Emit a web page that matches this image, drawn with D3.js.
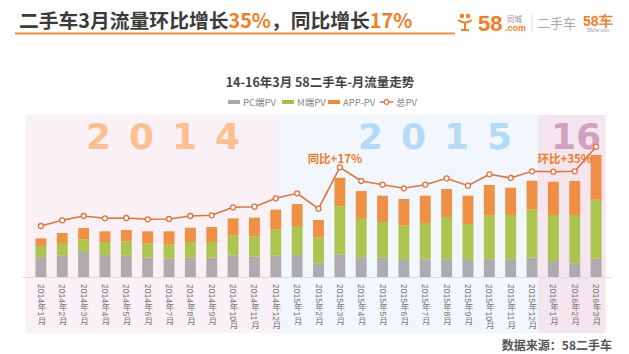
<!DOCTYPE html>
<html>
<head>
<meta charset="utf-8">
<script src="https://cdn.jsdelivr.net/npm/d3@7"></script>
<style>
  body { margin: 0; background: #fff; }
  svg { display: block; font-family: "Noto Sans CJK SC", "Noto Sans", sans-serif; }
</style>
</head>
<body>
<div class="chart"></div>
<script>
// monthly data (relative units)
const months = [
  "2014年1月", "2014年2月", "2014年3月", "2014年4月", "2014年5月", "2014年6月",
  "2014年7月", "2014年8月", "2014年9月", "2014年10月", "2014年11月", "2014年12月",
  "2015年1月", "2015年2月", "2015年3月", "2015年4月", "2015年5月", "2015年6月",
  "2015年7月", "2015年8月", "2015年9月", "2015年10月", "2015年11月", "2015年12月",
  "2016年1月", "2016年2月", "2016年3月"
]
const pcPV = [197, 213, 250, 220, 213, 193, 183, 193, 193, 213, 203, 213, 220, 137, 227, 197, 193, 170, 177, 177, 170, 177, 177, 193, 160, 137, 183]
const mPV = [113, 127, 127, 130, 144, 140, 144, 157, 157, 200, 204, 260, 290, 260, 480, 383, 357, 343, 363, 423, 360, 436, 443, 480, 460, 483, 590]
const appPV = [77, 100, 113, 107, 113, 124, 130, 143, 150, 174, 186, 200, 220, 173, 286, 280, 263, 267, 273, 280, 283, 307, 273, 290, 333, 340, 447]
const totalPV = [510, 567, 610, 587, 590, 577, 580, 610, 617, 697, 703, 787, 837, 683, 1097, 960, 923, 887, 923, 987, 913, 1027, 990, 1057, 1053, 1057, 1303]
const keys = ["pc", "m", "app"]
const legendLabels = ["PC端PV", "M端PV", "APP-PV", "总PV"]
const years = [
  { label: "2014", first: "2014年1月", last: "2014年12月" },
  { label: "2015", first: "2015年1月", last: "2015年12月" },
  { label: "16", first: "2016年1月", last: "2016年3月" }
]

const width = 629
const height = 354
const baseY = 277

const colors = d3.scaleOrdinal()
  .domain(keys)
  .range(["#aaa6aa", "#a6c244", "#ef8a3a"])

const table = months.map((m, i) => ({ month: m, pc: pcPV[i], m: mPV[i], app: appPV[i], total: totalPV[i] }))
const stacked = d3.stack().keys(keys)(table)

const x = d3.scaleBand()
  .domain(months)
  .range([25, 612])
  .padding(0.49)

const y = d3.scaleLinear()
  .domain([0, 1303])
  .range([baseY, 146.7])

const svg = d3.select(".chart")
  .append("svg")
  .attr("width", width)
  .attr("height", height)

// ---- header ----
const title = svg.append("text")
  .attr("x", 19)
  .attr("y", 28)
  .attr("font-size", 19.8)
  .attr("font-weight", "bold")
  .attr("fill", "#3b3b3b")
title.append("tspan").text("二手车3月流量环比增长")
title.append("tspan").attr("fill", "#f47d1f").text("35%")
title.append("tspan").text("，同比增长")
title.append("tspan").attr("fill", "#f47d1f").text("17%")

svg.append("rect")
  .attr("x", 15).attr("y", 32.5)
  .attr("width", 440).attr("height", 2)
  .attr("fill", "#f58a3a")

// logo
const logo = svg.append("g").attr("transform", "translate(458, 0)")
logo.append("circle").attr("cx", 4).attr("cy", 16).attr("r", 2.2).attr("fill", "#f47d1f")
logo.append("circle").attr("cx", 10).attr("cy", 16).attr("r", 2.2).attr("fill", "#f47d1f")
logo.append("path")
  .attr("d", "M0,20 Q7,25 14,20 M7,22 L7,30 M3,30 L11,30")
  .attr("fill", "none").attr("stroke", "#f47d1f").attr("stroke-width", 2)
logo.append("text").attr("x", 20).attr("y", 31)
  .attr("font-family", "'Liberation Sans', Arial, sans-serif")
  .attr("font-size", 22).attr("font-weight", "bold").attr("fill", "#f47d1f").text("58")
logo.append("text").attr("x", 47).attr("y", 31)
  .attr("font-family", "'Liberation Sans', Arial, sans-serif")
  .attr("font-size", 9).attr("font-weight", "bold").attr("fill", "#f47d1f").text(".com")
logo.append("text").attr("x", 49).attr("y", 22)
  .attr("font-size", 7.5).attr("fill", "#999").text("同城")
logo.append("line").attr("x1", 74).attr("x2", 74).attr("y1", 14).attr("y2", 32)
  .attr("stroke", "#ddd")
logo.append("text").attr("x", 79).attr("y", 28)
  .attr("font-size", 13).attr("fill", "#aaa").text("二手车")
logo.append("text").attr("x", 125).attr("y", 26)
  .attr("font-family", "'Liberation Sans', Arial, sans-serif")
  .attr("font-size", 14).attr("font-weight", "bold").attr("fill", "#f47d1f").text("58车")
logo.append("text").attr("x", 129).attr("y", 32)
  .attr("font-family", "'Liberation Sans', Arial, sans-serif")
  .attr("font-size", 4.5).attr("fill", "#999").text("58che.com")

// chart title
svg.append("text")
  .attr("x", 320).attr("y", 87)
  .attr("text-anchor", "middle")
  .attr("font-size", 12.5).attr("font-weight", "bold").attr("fill", "#444")
  .text("14-16年3月  58二手车-月流量走势")

// legend
const legendX = [228, 282, 328, 380]
const legend = svg.append("g")
legendLabels.forEach((lbl, i) => {
  const g = legend.append("g").attr("transform", `translate(${legendX[i]}, 102)`)
  if (i < 3) {
    g.append("rect").attr("x", 0).attr("y", -2).attr("width", 12).attr("height", 4)
      .attr("fill", colors(keys[i]))
  } else {
    g.append("line").attr("x1", 0).attr("x2", 13).attr("y1", 0).attr("y2", 0)
      .attr("stroke", "#e2723f").attr("stroke-width", 1.5)
    g.append("circle").attr("cx", 6.5).attr("cy", 0).attr("r", 2.3)
      .attr("fill", "#fff").attr("stroke", "#e2723f").attr("stroke-width", 1.2)
  }
  g.append("text").attr("x", i < 3 ? 15 : 16).attr("y", 3.5)
    .attr("font-size", 9.5).attr("fill", "#888").text(lbl)
})

// ---- year backgrounds ----
const step = x.step()
const yearBg = ["#f9f1f5", "#f1f7fc", "#f5e5ee"]
const yearText = ["#fbbf90", "#b3daf6", "#cfa2bf"]
years.forEach((yr, i) => {
  const x0 = x(yr.first) + x.bandwidth() / 2 - step * 0.72
  const x1 = i < years.length - 1
    ? x(years[i + 1].first) + x.bandwidth() / 2 - step * 0.72
    : x(yr.last) + x.bandwidth() / 2 + step * 0.45
  svg.append("rect")
    .attr("x", x0).attr("y", 115)
    .attr("width", x1 - x0).attr("height", 218)
    .attr("fill", yearBg[i])
})

svg.append("line")
  .attr("x1", 22).attr("x2", 612)
  .attr("y1", baseY + 0.5).attr("y2", baseY + 0.5)
  .attr("stroke", "#dcdcdc")

// big year labels
const yearPos = [163, 435, 576]
years.forEach((yr, i) => {
  svg.append("text")
    .attr("x", yearPos[i]).attr("y", 149)
    .attr("text-anchor", "middle")
    .attr("font-family", "'DejaVu Sans', Verdana, sans-serif")
    .attr("font-size", 36).attr("font-weight", "bold")
    .attr("letter-spacing", i < 2 ? 18 : 0)
    .attr("dx", i < 2 ? 9 : 0)
    .attr("fill", yearText[i])
    .text(yr.label)
})

// ---- stacked bars ----
svg.append("g")
  .selectAll("g")
  .data(stacked)
  .join("g")
  .attr("fill", d => colors(d.key))
  .selectAll("rect")
  .data(d => d)
  .join("rect")
  .attr("x", d => x(d.data.month))
  .attr("y", d => y(d[1]))
  .attr("width", x.bandwidth())
  .attr("height", d => y(d[0]) - y(d[1]))
  .attr("opacity", 0.95)

// ---- total line ----
const line = d3.line()
  .x(d => x(d.month) + x.bandwidth() / 2)
  .y(d => y(d.total))

svg.append("path")
  .datum(table)
  .attr("d", line)
  .attr("fill", "none")
  .attr("stroke", "#e2723f")
  .attr("stroke-width", 1.6)

svg.append("g")
  .selectAll("circle")
  .data(table)
  .join("circle")
  .attr("cx", d => x(d.month) + x.bandwidth() / 2)
  .attr("cy", d => y(d.total))
  .attr("r", 2.5)
  .attr("fill", "#fff")
  .attr("stroke", "#e2723f")
  .attr("stroke-width", 1.3)

// annotations
const notes = [
  { month: "2015年3月", text: "同比+17%", dx: -5 },
  { month: "2016年2月", text: "环比+35%", dx: -10 }
]
svg.append("g")
  .selectAll("text")
  .data(notes)
  .join("text")
  .attr("x", d => x(d.month) + x.bandwidth() / 2 + d.dx)
  .attr("y", 162.5)
  .attr("text-anchor", "middle")
  .attr("font-size", 11.5).attr("font-weight", "bold")
  .attr("fill", "#f07d22")
  .text(d => d.text)

// x labels (vertical)
svg.append("g")
  .selectAll("text")
  .data(months)
  .join("text")
  .attr("x", d => x(d) + x.bandwidth() / 2)
  .attr("y", 284)
  .attr("font-family", "'Liberation Sans', 'Noto Sans CJK SC', sans-serif")
  .style("writing-mode", "vertical-rl")
  .attr("font-size", 8.5)
  .attr("fill", "#777")
  .text(d => d)

// source
svg.append("text")
  .attr("x", 612).attr("y", 350)
  .attr("text-anchor", "end")
  .attr("font-size", 12).attr("font-weight", "bold").attr("fill", "#555")
  .text("数据来源：58二手车")
</script>
</body>
</html>
